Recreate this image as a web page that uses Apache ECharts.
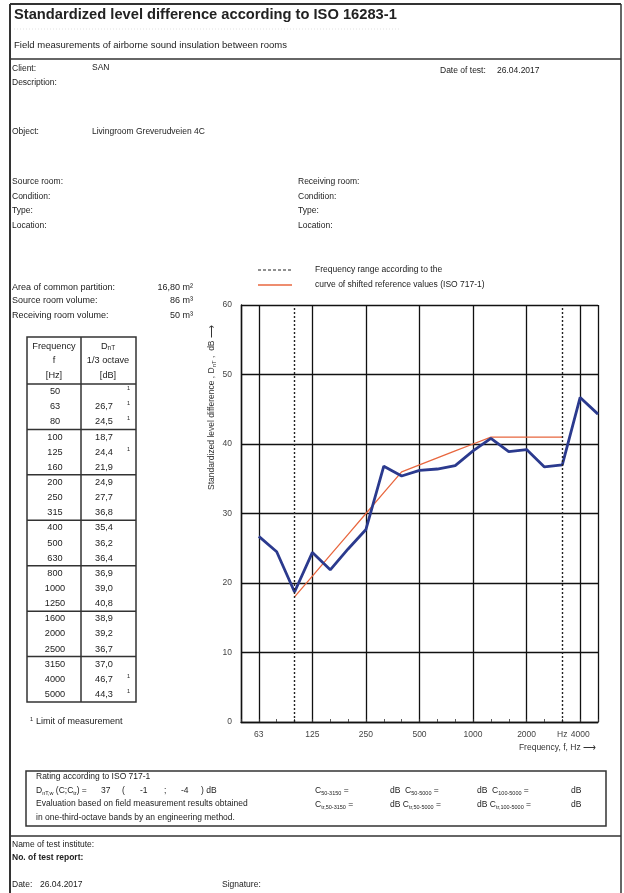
<!DOCTYPE html>
<html>
<head>
<meta charset="utf-8">
<script src="https://cdn.jsdelivr.net/npm/echarts@6/dist/echarts.min.js"></script>
<style>
html,body{margin:0;padding:0;background:#fff;}
#chart{width:624px;height:893px;}
</style>
</head>
<body>
<div id="chart"></div>
<script>
// ---- Data ----
const freqs = ['50','63','80','100','125','160','200','250','315','400','500','630','800','1000','1250','1600','2000','2500','3150','4000','5000'];
const dnt = [null,26.7,24.5,18.7,24.4,21.9,24.9,27.7,36.8,35.4,36.2,36.4,36.9,39.0,40.8,38.9,39.2,36.7,37.0,46.7,44.3];
const limitFlags = [1,1,1,0,1,0,0,0,0,0,0,0,0,0,0,0,0,0,0,1,1];
const refShifted = [null,null,null,18,21,24,27,30,33,36,37,38,39,40,41,41,41,41,41,null,null];
const rangeBounds = ['100','3150'];
const xTickText = {'63':'63','125':'125','250':'250','500':'500','1000':'1000','2000':'2000','3150':'Hz','4000':'4000'};
const majorFreqs = ['50','63','125','250','500','1000','2000','4000','5000'];
const yMin = 0, yMax = 60, yStep = 10;
const ratingValues = {dntw:'37', c:'-1', ctr:'-4'};

const FONT = '"Liberation Sans", Arial, sans-serif';
const INK = '#222';

const chart = echarts.init(document.getElementById('chart'), null, {renderer:'canvas'});

const g = [];
function txt(x, y, text, opt) {
  opt = opt || {};
  g.push({type:'text', x:x, y:y, silent:true, rotation: opt.rotation || 0, z:10,
    style:{text:text, x:0, y:0, fill: opt.color || INK, fontSize: opt.size || 8.5,
      fontFamily: FONT, fontWeight: opt.bold ? 'bold' : 'normal',
      textAlign: opt.align || 'left', textVerticalAlign:'middle', rich: opt.rich}});
}
function ln(x1, y1, x2, y2, opt) {
  opt = opt || {};
  g.push({type:'line', silent:true, z:10, shape:{x1:x1,y1:y1,x2:x2,y2:y2},
    style:{stroke: opt.color || '#333', lineWidth: opt.w || 1, lineDash: opt.dash || null}});
}

// ---- page frame ----
ln(10, 4, 621, 4, {w:2});
ln(10, 4, 10, 893, {w:2});
ln(621, 4, 621, 893, {w:1.5});
ln(14, 29, 400, 29, {w:0.6, color:'#ccc', dash:[1,2]});
ln(10, 59, 621, 59, {w:1.5});
ln(10, 836, 621, 836, {w:1.5});

// ---- header texts ----
txt(14, 15, 'Standardized level difference according to ISO 16283-1', {size:14.7, bold:true});
txt(14, 45, 'Field measurements of airborne sound insulation between rooms', {size:9.5});
txt(12, 69, 'Client:');
txt(92, 68, 'SAN');
txt(440, 71, 'Date of test:');
txt(497, 71, '26.04.2017');
txt(12, 83, 'Description:');
txt(12, 132, 'Object:');
txt(92, 132, 'Livingroom Greverudveien 4C');
['Source room:','Condition:','Type:','Location:'].forEach((t,i)=>txt(12, 182 + i*14.5, t));
['Receiving room:','Condition:','Type:','Location:'].forEach((t,i)=>txt(298, 182 + i*14.5, t));
txt(12, 288, 'Area of common partition:', {size:9});
txt(193, 288, '16,80 m²', {align:'right', size:9});
txt(12, 301, 'Source room volume:', {size:9});
txt(193, 301, '86 m³', {align:'right', size:9});
txt(12, 316, 'Receiving room volume:', {size:9});
txt(193, 316, '50 m³', {align:'right', size:9});

// ---- table ----
const TS = 9.2;
const tL = 27, tM = 81, tR = 136, tTop = 337, tHead = 384, tBot = 702;
const rowH = (tBot - tHead) / freqs.length;
g.push({type:'rect', silent:true, z:10, shape:{x:tL, y:tTop, width:tR-tL, height:tBot-tTop},
  style:{fill:'none', stroke:'#333', lineWidth:1.5}});
ln(tM, tTop, tM, tBot, {w:1.5});
ln(tL, tHead, tR, tHead, {w:1.5});
for (let k = 3; k < freqs.length; k += 3) ln(tL, tHead + k*rowH, tR, tHead + k*rowH, {w:1.5});
txt(54, 346, 'Frequency', {align:'center', size:TS});
txt(54, 360, 'f', {align:'center', size:TS});
txt(54, 375, '[Hz]', {align:'center', size:TS});
txt(108, 346, '{a|D}{b|nT}', {align:'center', rich:{a:{fontSize:TS,fontFamily:FONT,fill:INK},b:{fontSize:6.5,fontFamily:FONT,fill:INK,padding:[5,0,0,0]}}});
txt(108, 360, '1/3 octave', {align:'center', size:TS});
txt(108, 375, '[dB]', {align:'center', size:TS});
freqs.forEach((f,i)=>{
  const cy = tHead + rowH*(i+0.5);
  txt(55, cy, f, {align:'center', size:TS});
  if (dnt[i] !== null) txt(104, cy, dnt[i].toFixed(1).replace('.', ','), {align:'center', size:TS});
  if (limitFlags[i]) txt(127, cy-3, '1', {size:5.5});
});
txt(30, 719, '1', {size:5.5});
txt(36, 722, 'Limit of measurement', {size:9});

// ---- legend ----
ln(258, 270, 292, 270, {w:1.2, color:'#222', dash:[3,2]});
txt(315, 270, 'Frequency range according to the');
ln(258, 285, 292, 285, {w:1.4, color:'#e8673f'});
txt(315, 285, 'curve of shifted reference values (ISO 717-1)');

// ---- axis names ----
txt(212, 490, '{a|Standardized level difference , D}{b|nT}{a| ,  dB ⟶}', {rotation:Math.PI/2,
  rich:{a:{fontSize:8.5,fontFamily:FONT,fill:'#333'},b:{fontSize:6,fontFamily:FONT,fill:'#333',padding:[5,0,0,0]}}});
txt(596, 748, 'Frequency, f, Hz ⟶', {align:'right', color:'#333'});

// ---- rating box ----
g.push({type:'rect', silent:true, z:10, shape:{x:26, y:771, width:580, height:55},
  style:{fill:'none', stroke:'#333', lineWidth:1.5}});
const sub = {a:{fontSize:8.5,fontFamily:FONT,fill:INK},b:{fontSize:5.5,fontFamily:FONT,fill:INK,padding:[5,0,0,0]}};
txt(36, 777, 'Rating according to ISO 717-1');
txt(36, 791, '{a|D}{b|nT,w}{a| (C;C}{b|tr}{a|) =}', {rich:sub});
txt(101, 791, ratingValues.dntw);
txt(122, 791, '(');
txt(140, 791, ratingValues.c);
txt(164, 791, ';');
txt(181, 791, ratingValues.ctr);
txt(201, 791, ') dB');
txt(36, 804, 'Evaluation based on field measurement results obtained');
txt(36, 818, 'in one-third-octave bands by an engineering method.');
txt(315, 791, '{a|C}{b|50-3150}{a| =}', {rich:sub});
txt(390, 791, '{a|dB  C}{b|50-5000}{a| =}', {rich:sub});
txt(477, 791, '{a|dB  C}{b|100-5000}{a| =}', {rich:sub});
txt(571, 791, 'dB');
txt(315, 805, '{a|C}{b|tr,50-3150}{a| =}', {rich:sub});
txt(390, 805, '{a|dB C}{b|tr,50-5000}{a| =}', {rich:sub});
txt(477, 805, '{a|dB C}{b|tr,100-5000}{a| =}', {rich:sub});
txt(571, 805, 'dB');

// ---- footer ----
txt(12, 845, 'Name of test institute:');
txt(12, 858, 'No. of test report:', {bold:true});
txt(12, 885, 'Date:');
txt(40, 885, '26.04.2017');
txt(222, 885, 'Signature:');

const option = {
  animation: false,
  backgroundColor: '#fff',
  grid: {left: 241, right: 26, top: 305, bottom: 171, containLabel: false},
  xAxis: {
    type: 'category', data: freqs, boundaryGap: false,
    axisLine: {show: true, lineStyle: {color: '#111', width: 1.4}},
    axisTick: {show: true, inside: true, length: 3, interval: 0, lineStyle: {color: '#333', width: 0.8}},
    axisLabel: {interval: 0, margin: 8, color: '#444', fontSize: 8.5, fontFamily: FONT,
      formatter: v => xTickText[v] || ''},
    splitLine: {show: true, interval: (i, v) => majorFreqs.indexOf(v) >= 0,
      lineStyle: {color: '#111', width: 1.3}}
  },
  yAxis: {
    type: 'value', min: yMin, max: yMax, interval: yStep,
    axisLine: {show: true, lineStyle: {color: '#111', width: 1.4}},
    axisTick: {show: false},
    axisLabel: {margin: 9, color: '#444', fontSize: 8.5, fontFamily: FONT},
    splitLine: {show: true, lineStyle: {color: '#111', width: 1.3}}
  },
  series: [
    {
      name: 'range', type: 'line', data: [], silent: true,
      markLine: {symbol: 'none', silent: true, label: {show: false},
        lineStyle: {color: '#222', width: 1.4, type: [2, 2]},
        data: rangeBounds.map(f => ({xAxis: f}))}
    },
    {
      name: 'reference', type: 'line', data: refShifted, symbol: 'none', z: 3,
      lineStyle: {color: '#e8673f', width: 1.3}
    },
    {
      name: 'DnT', type: 'line', data: dnt, symbol: 'none', z: 4,
      lineStyle: {color: '#2b3a8e', width: 2.8}
    }
  ],
  graphic: g
};
chart.setOption(option);
</script>
</body>
</html>
